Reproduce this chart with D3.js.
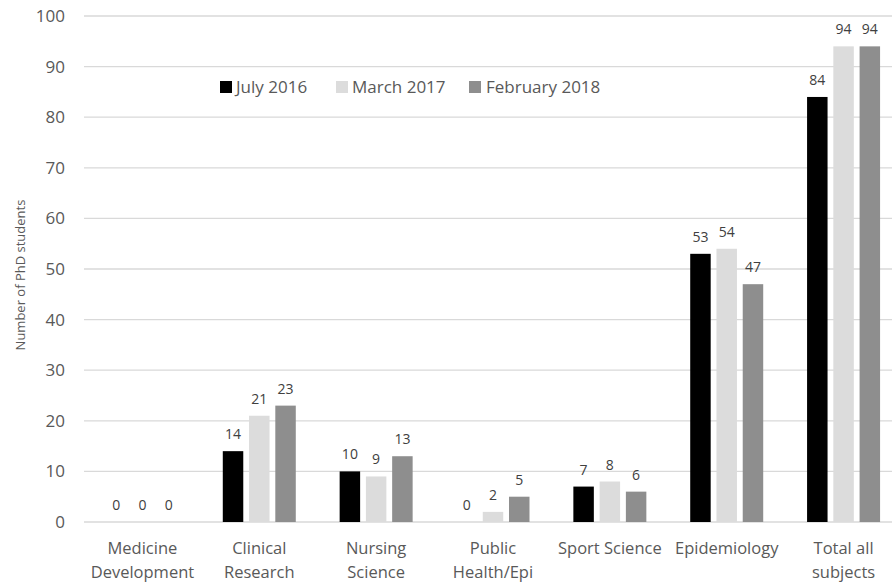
<!DOCTYPE html>
<html>
<head>
<meta charset="utf-8">
<script src="https://cdn.jsdelivr.net/npm/d3@7"></script>
<style>
  body { margin: 0; background: #fff; }
  text { font-family: "Open Sans", sans-serif; }
</style>
</head>
<body>
<script>
// categorias e series
const categorias = [
  ["Medicine", "Development"],
  ["Clinical", "Research"],
  ["Nursing", "Science"],
  ["Public", "Health/Epi"],
  ["Sport Science"],
  ["Epidemiology"],
  ["Total all", "subjects"]
];
const series = ["July 2016", "March 2017", "February 2018"];
const july2016 = [0, 14, 10, 0, 7, 53, 84];
const march2017 = [0, 21, 9, 2, 8, 54, 94];
const feb2018 = [0, 23, 13, 5, 6, 47, 94];
const yTicks = [0, 10, 20, 30, 40, 50, 60, 70, 80, 90, 100];

const valores = [july2016, march2017, feb2018];
const cores = ["#000000", "#dcdcdc", "#8e8e8e"];

const largura = 892, altura = 583;
const margem = { left: 84, right: -10, top: 16, bottom: 61 };

const svg = d3.select("body").append("svg")
  .attr("width", largura)
  .attr("height", altura);

const x = d3.scaleBand()
  .domain(d3.range(categorias.length))
  .range([margem.left, largura - margem.right])
  .paddingInner(0)
  .paddingOuter(0);

const xSub = d3.scaleBand()
  .domain(d3.range(series.length))
  .range([x.bandwidth() / 2 - 36.5, x.bandwidth() / 2 + 36.5])
  .paddingInner(0.22);

const y = d3.scaleLinear()
  .domain([0, 100])
  .range([altura - margem.bottom, margem.top]);

// linhas de grade
svg.append("g")
  .selectAll("line")
  .data(yTicks)
  .join("line")
  .attr("x1", margem.left)
  .attr("x2", largura)
  .attr("y1", d => y(d))
  .attr("y2", d => y(d))
  .attr("stroke", "#d9d9d9")
  .attr("stroke-width", 1.3);

// eixo y
const eixoY = svg.append("g")
  .attr("transform", `translate(${margem.left - 19},0)`)
  .call(d3.axisLeft(y).tickValues(yTicks).tickSize(0).tickPadding(0));
eixoY.select(".domain").remove();
eixoY.selectAll("text")
  .attr("fill", "#595959")
  .style("font-size", "17px")
  .style("font-family", "Open Sans, sans-serif");

// barras
const grupos = svg.append("g")
  .selectAll("g")
  .data(categorias)
  .join("g")
  .attr("transform", (d, i) => `translate(${x(i)},0)`);

series.forEach((s, j) => {
  grupos.append("rect")
    .attr("x", xSub(j))
    .attr("width", xSub.bandwidth())
    .attr("y", (d, i) => y(valores[j][i]))
    .attr("height", (d, i) => y(0) - y(valores[j][i]))
    .attr("fill", cores[j]);

  grupos.append("text")
    .attr("x", xSub(j) + xSub.bandwidth() / 2)
    .attr("y", (d, i) => y(valores[j][i]) - 12)
    .attr("text-anchor", "middle")
    .attr("fill", "#404040")
    .style("font-size", "14px")
    .text((d, i) => valores[j][i]);
});

// rotulos das categorias
grupos.append("text")
  .attr("x", x.bandwidth() / 2)
  .attr("y", 554)
  .attr("text-anchor", "middle")
  .attr("fill", "#595959")
  .style("font-size", "16.5px")
  .selectAll("tspan")
  .data(d => d)
  .join("tspan")
  .attr("x", x.bandwidth() / 2)
  .attr("dy", (d, i) => i == 0 ? 0 : 24)
  .text(d => d);

// titulo do eixo y
svg.append("text")
  .attr("transform", `translate(25,275) rotate(-90)`)
  .attr("text-anchor", "middle")
  .attr("fill", "#595959")
  .style("font-size", "13px")
  .text("Number of PhD students");

// legenda
const legendaX = [220, 336, 469];
const legenda = svg.append("g")
  .selectAll("g")
  .data(series)
  .join("g")
  .attr("transform", (d, i) => `translate(${legendaX[i]},87)`);
legenda.append("rect")
  .attr("x", 0)
  .attr("y", -6)
  .attr("width", 12)
  .attr("height", 12)
  .attr("fill", (d, i) => cores[i]);
legenda.append("text")
  .attr("x", (d, i) => i == 2 ? 17 : 16)
  .attr("y", 6)
  .attr("fill", "#595959")
  .style("font-size", "17px")
  .text(d => d);
</script>
</body>
</html>
